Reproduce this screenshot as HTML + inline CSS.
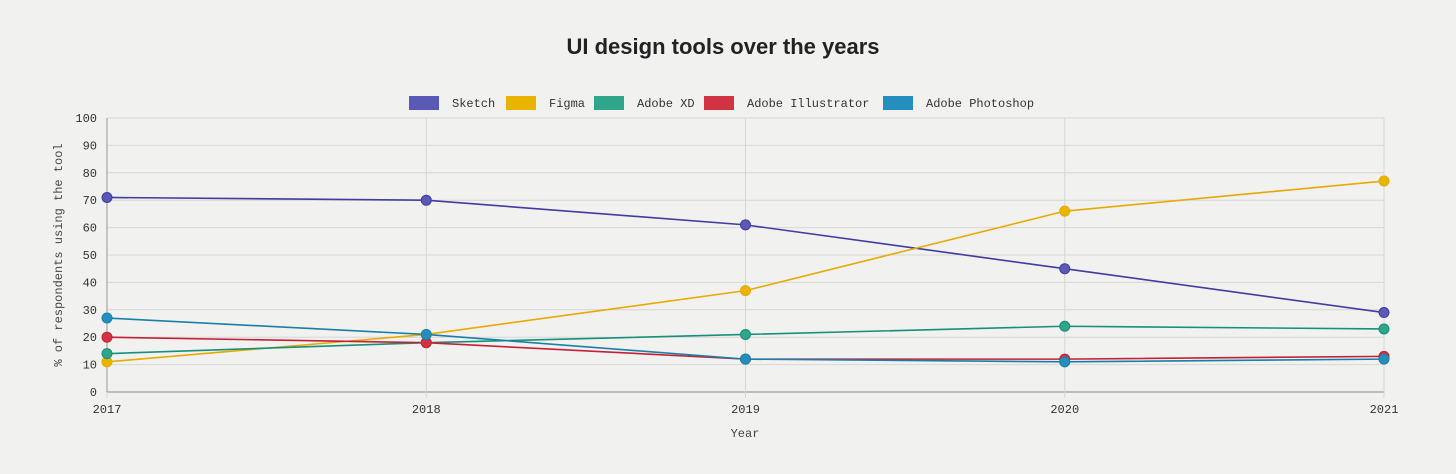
<!DOCTYPE html>
<html><head><meta charset="utf-8"><style>
body{margin:0;background:#f1f1ef;}
svg{display:block;font-family:"Liberation Mono",monospace;}
</style></head><body>
<svg id="c" width="1456" height="474">
<text x="723" y="54" text-anchor="middle" font-family="Liberation Sans, sans-serif" font-weight="bold" font-size="22" fill="#222">UI design tools over the years</text>
<g id="grid"></g><g id="legend"></g><g id="series"></g>
<text x="745" y="437" text-anchor="middle" font-size="12" fill="#444">Year</text>
<text transform="translate(62,255) rotate(-90)" text-anchor="middle" font-size="12" fill="#444">% of respondents using the tool</text>
</svg>
<script>
const years=["2017","2018","2019","2020","2021"];
const yTicks=[0,10,20,30,40,50,60,70,80,90,100];
const seriesNames=["Sketch","Figma","Adobe XD","Adobe Illustrator","Adobe Photoshop"];
const sketch=[71,70,61,45,29];
const figma=[11,21,37,66,77];
const adobeXD=[14,18,21,24,23];
const illustrator=[20,18,12,12,13];
const photoshop=[27,21,12,11,12];
const seriesData=[sketch,figma,adobeXD,illustrator,photoshop];
const fills=["#5b59b6","#e8b400","#2fa58a","#d23343","#248ebf"];
const strokes=["#3f3d9e","#e8aa00","#16907a","#c42036","#1880a8"];
const NS="http://www.w3.org/2000/svg";
const X0=107,X1=1384,Y0=392,Y1=118;
const xs=i=>X0+(X1-X0)*i/(years.length-1);
const ys=v=>Y0-(Y0-Y1)*v/100;
function mk(t,a,p){const e=document.createElementNS(NS,t);for(const k in a)e.setAttribute(k,a[k]);p.appendChild(e);return e;}
const g=document.getElementById('grid');
yTicks.forEach(v=>{
 const l=mk('line',{x1:X0,x2:X1,y1:ys(v),y2:ys(v),stroke:v===0?'#888':'#d6d6d4','stroke-width':1},g);
 
 
 const t=mk('text',{x:X0-10,y:ys(v)+4,'text-anchor':'end','font-size':12,fill:'#333'},g);t.textContent=v;
 
 
});
years.forEach((y,i)=>{
 const l=mk('line',{x1:xs(i),x2:xs(i),y1:Y1,y2:Y0+6,stroke:'#d6d6d4'},g);
 
 
 const t=mk('text',{x:xs(i),y:Y0+21,'text-anchor':'middle','font-size':12,fill:'#333'},g);t.textContent=y;
 
 
});
mk('line',{x1:X0,x2:X0,y1:Y1,y2:Y0,stroke:'#999'},g);
const lg=document.getElementById('legend');
const lx=[409,506,594,704,883];
seriesNames.forEach((n,i)=>{
 const r=mk('rect',{x:lx[i],y:96,width:30,height:14,fill:fills[i]},lg);
 
 
 const t=mk('text',{x:lx[i]+43,y:107,'font-size':12,fill:'#333'},lg);t.textContent=n;
 
 
});
const sg=document.getElementById('series');
seriesData.forEach((d,si)=>{
 const p=mk('polyline',{points:d.map((v,i)=>xs(i)+','+ys(v)).join(' '),fill:'none',stroke:strokes[si],'stroke-width':1.6},sg);
 
 
});
seriesData.forEach((d,si)=>{
 d.forEach((v,i)=>{
  const c=mk('circle',{cx:xs(i),cy:ys(v),r:5,fill:fills[si],stroke:strokes[si],'stroke-width':1},sg);
  
  
 });
});
</script>
</body></html>
